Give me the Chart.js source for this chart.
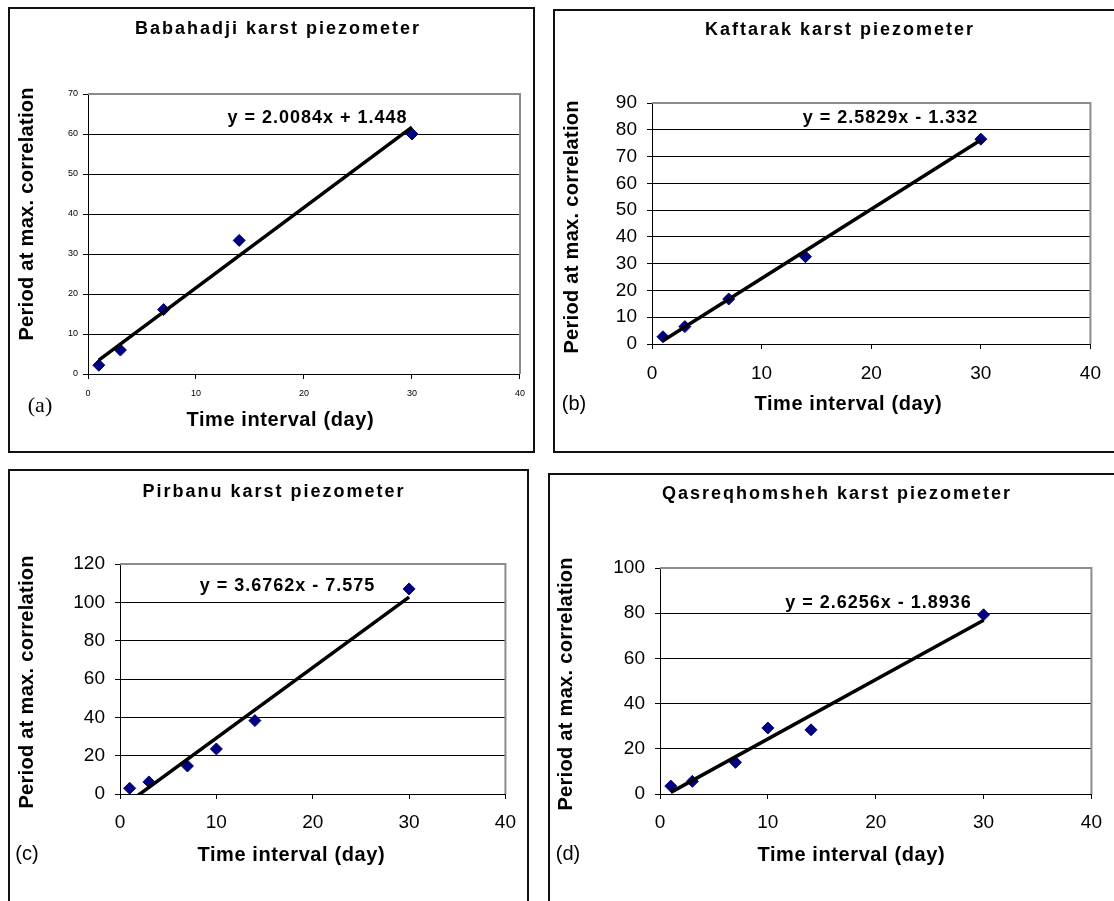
<!DOCTYPE html>
<html>
<head>
<meta charset="utf-8">
<title>Karst piezometers - period at max. correlation</title>
<script src="https://cdn.jsdelivr.net/npm/chart.js@4.4.1/dist/chart.umd.min.js"></script>
<style>
  html, body { margin: 0; padding: 0; background: #fff; }
  body { width: 1114px; height: 901px; position: relative; overflow: hidden; }
  canvas { position: absolute; }
  .frame { position: absolute; box-sizing: border-box; border: 2px solid #111; pointer-events: none; }
</style>
</head>
<body>
<div class="frame" style="left:8px;top:7px;width:527px;height:446px"></div>
<div class="frame" style="left:553px;top:9px;width:600px;height:444px"></div>
<div class="frame" style="left:8px;top:469px;width:521px;height:500px"></div>
<div class="frame" style="left:548px;top:473px;width:600px;height:500px"></div>
<canvas id="pa" width="525" height="444" style="left:9px;top:8px"></canvas>
<canvas id="pb" width="560" height="442" style="left:554px;top:10px"></canvas>
<canvas id="pc" width="519" height="431" style="left:9px;top:470px"></canvas>
<canvas id="pd" width="565" height="427" style="left:549px;top:474px"></canvas>
<script>
// time interval (day) for each piezometer
const daysAB = [1, 3, 7, 14, 30];
const daysCD = [1, 3, 7, 10, 14, 30];

// period at max. correlation
const babahadji = [2.2, 6.0, 16.1, 33.4, 60.0];
const kaftarak = [2.7, 6.5, 16.8, 32.6, 76.5];
const pirbanu = [3.0, 6.3, 14.6, 23.5, 38.3, 107];
const qasreqhomsheh = [3.5, 5.6, 14.0, 29.2, 28.4, 79.3];

// linear trend lines as printed on the charts
const slopes = [2.0084, 2.5829, 3.6762, 2.6256];
const intercepts = [1.448, -1.332, -7.575, -1.8936];
const equations = ["y = 2.0084x + 1.448", "y = 2.5829x - 1.332", "y = 3.6762x - 7.575", "y = 2.6256x - 1.8936"];

const titles = ["Babahadji karst piezometer", "Kaftarak karst piezometer", "Pirbanu karst piezometer", "Qasreqhomsheh karst piezometer"];
const letters = ["(a)", "(b)", "(c)", "(d)"];
const yMax = [70, 90, 120, 100];
const yStep = [10, 10, 20, 20];
const xMax = 40;
const xStep = 10;
const yTitle = "Period at max. correlation";
const xTitle = "Time interval (day)";

const SANS = '"Liberation Sans", Arial, sans-serif';
const SERIF = '"Liberation Serif", "Times New Roman", serif';

// page positions of each panel (canvas box, plot area, text anchors)
const panels = [
	{ id: "pa", box: { x: 9, y: 8 }, area: { l: 88, t: 94, r: 526, b: 374 }, tick: 9, xPad: 9, yPad: 5,
		title: [277, 29], yT: [27, 214], xT: [280, 420], eq: [317, 118], letter: [40, 406], letterFont: "22px " + SERIF },
	{ id: "pb", box: { x: 554, y: 10 }, area: { l: 652, t: 103, r: 1100, b: 344 }, tick: 19, xPad: 13, yPad: 10,
		title: [839, 30], yT: [572, 227], xT: [848, 404], eq: [890, 118], letter: [574, 404], letterFont: "20px " + SANS },
	{ id: "pc", box: { x: 9, y: 470 }, area: { l: 120, t: 564, r: 513, b: 794 }, tick: 19, xPad: 12, yPad: 10,
		title: [273, 492], yT: [27, 682], xT: [291, 855], eq: [287, 586], letter: [27, 854], letterFont: "20px " + SANS },
	{ id: "pd", box: { x: 549, y: 474 }, area: { l: 660, t: 568, r: 1100, b: 794 }, tick: 19, xPad: 12, yPad: 10,
		title: [836, 494], yT: [566, 684], xT: [851, 855], eq: [878, 603], letter: [568, 854], letterFont: "20px " + SANS }
];

function putText(ctx, text, x, y, font, spacing, rot) {
	ctx.save();
	ctx.translate(x, y);
	if (rot) ctx.rotate(rot);
	ctx.font = font;
	ctx.letterSpacing = spacing + "px";
	ctx.textAlign = "center";
	ctx.textBaseline = "middle";
	ctx.fillStyle = "#000";
	ctx.fillText(text, spacing / 2, 0);
	ctx.restore();
}

const panelText = {
	id: "panelText",
	beforeDatasetsDraw(chart) {
		// grey top and right edge of the plot area
		const a = chart.chartArea;
		const ctx = chart.ctx;
		ctx.save();
		ctx.strokeStyle = "#8c8c8c";
		ctx.lineWidth = 2;
		ctx.beginPath();
		ctx.moveTo(a.left, a.top);
		ctx.lineTo(a.right, a.top);
		ctx.lineTo(a.right, a.bottom);
		ctx.stroke();
		ctx.restore();
	},
	afterDraw(chart, args, o) {
		const ctx = chart.ctx;
		const p = o.panel;
		const ox = p.box.x;
		const oy = p.box.y;
		putText(ctx, o.title, p.title[0] - ox, p.title[1] - oy, "bold 18px " + SANS, 2);
		putText(ctx, o.equation, p.eq[0] - ox, p.eq[1] - oy, "bold 18px " + SANS, 1);
		putText(ctx, xTitle, p.xT[0] - ox, p.xT[1] - oy, "bold 20px " + SANS, 0.6);
		putText(ctx, yTitle, p.yT[0] - ox, p.yT[1] - oy, "bold 20px " + SANS, 0.3, -Math.PI / 2);
		putText(ctx, o.letter, p.letter[0] - ox, p.letter[1] - oy, p.letterFont, 0);
	}
};

function makePanel(i, days, values) {
	const p = panels[i];
	const canvas = document.getElementById(p.id);
	const W = canvas.width;
	const H = canvas.height;
	const yW = 60;
	const xH = 45;
	const first = days[0];
	const last = days[days.length - 1];

	new Chart(canvas, {
		type: "scatter",
		data: {
			datasets: [
				{
					data: [
						{ x: first, y: slopes[i] * first + intercepts[i] },
						{ x: last, y: slopes[i] * last + intercepts[i] }
					],
					showLine: true,
					borderColor: "#000",
					borderWidth: 3.5,
					pointRadius: 0,
					clip: 0,
					order: 0
				},
				{
					data: days.map((d, k) => ({ x: d, y: values[k] })),
					pointStyle: "rectRot",
					pointRadius: 6,
					backgroundColor: "#000080",
					borderColor: "#000080",
					borderWidth: 1,
					clip: false,
					order: 1
				}
			]
		},
		options: {
			responsive: false,
			animation: false,
			events: [],
			layout: {
				padding: {
					left: p.area.l - p.box.x - yW,
					top: p.area.t - p.box.y,
					right: W - (p.area.r - p.box.x),
					bottom: H - (p.area.b - p.box.y) - xH
				}
			},
			plugins: {
				legend: { display: false },
				tooltip: { enabled: false },
				panelText: { panel: p, title: titles[i], equation: equations[i], letter: letters[i] }
			},
			scales: {
				x: {
					type: "linear",
					min: 0,
					max: xMax,
					ticks: { stepSize: xStep, color: "#000", padding: p.xPad, font: { family: SANS, size: p.tick } },
					grid: { drawOnChartArea: false, tickLength: 5, color: "#000" },
					border: { color: "#000", width: 1 },
					afterFit: (s) => {
						s.height = xH;
					}
				},
				y: {
					min: 0,
					max: yMax[i],
					ticks: { stepSize: yStep[i], color: "#000", padding: p.yPad, font: { family: SANS, size: p.tick } },
					grid: { tickLength: 5, color: "#000" },
					border: { color: "#000", width: 1 },
					afterFit: (s) => {
						s.width = yW;
					}
				}
			}
		},
		plugins: [panelText]
	});
}

makePanel(0, daysAB, babahadji);
makePanel(1, daysAB, kaftarak);
makePanel(2, daysCD, pirbanu);
makePanel(3, daysCD, qasreqhomsheh);
</script>
</body>
</html>
